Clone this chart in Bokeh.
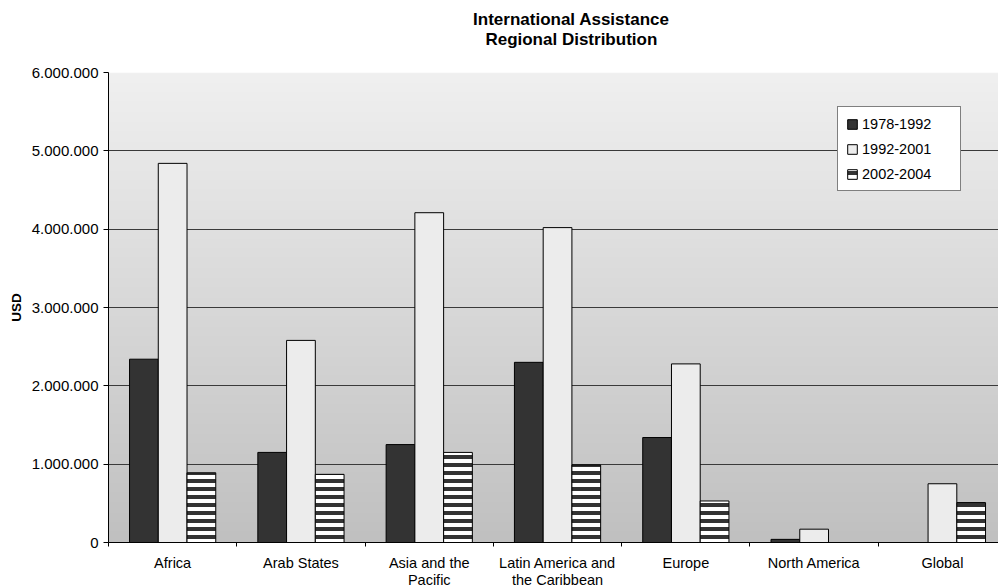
import numpy as np
from bokeh.plotting import figure
from bokeh.layouts import column
from bokeh.core.properties import value
from bokeh.models import (ColumnDataSource, Range1d, FixedTicker, Legend,
                          LegendItem)
from bokeh.transform import dodge
from bokeh.embed import file_html
from bokeh.resources import INLINE

# Regional distribution of international assistance (USD)
regions = ["Africa", "Arab States", "Asia and the\nPacific",
           "Latin America and\nthe Caribbean", "Europe", "North America",
           "Global"]
period_1978_1992 = [2340000, 1150000, 1250000, 2300000, 1340000, 40000, 0]
period_1992_2001 = [4840000, 2580000, 4210000, 4020000, 2280000, 170000, 750000]
period_2002_2004 = [890000, 870000, 1150000, 990000, 530000, 0, 510000]
series_names = ["1978-1992", "1992-2001", "2002-2004"]
y_ticks = [0, 1000000, 2000000, 3000000, 4000000, 5000000, 6000000]
y_tick_labels = ["0", "1.000.000", "2.000.000", "3.000.000", "4.000.000",
                 "5.000.000", "6.000.000"]
title_lines = ["International Assistance", "Regional Distribution"]

FONT = "Liberation Sans"
W = 998
HEAD_H = 60
centers = [i + 0.5 for i in range(len(regions))]
bar_w = 0.224

src = ColumnDataSource(dict(
    x=centers,
    label=regions,
    a=period_1978_1992,
    b=period_1992_2001,
    c=period_2002_2004,
))

x_range = Range1d(0, 6.937)

# ---- title strip (y measured downwards in pixels) -----------------------
head = figure(width=W, height=HEAD_H, x_range=Range1d(0, W),
              y_range=Range1d(HEAD_H, 0),
              output_backend="svg", toolbar_location=None,
              x_axis_location=None, y_axis_location=None, min_border=0)
head.outline_line_color = None
head.grid.visible = False
head.text(x=[519, 519], y=[19, 39], text=title_lines,
          text_align="center", text_baseline="middle",
          text_font=value(FONT), text_font_size="17px",
          text_font_style="bold", text_color="black")

# ---- main chart --------------------------------------------------------
p = figure(width=W, height=490, x_range=x_range, y_range=Range1d(0, 6000000),
           output_backend="svg", toolbar_location=None,
           min_border_left=108, min_border_right=0,
           min_border_top=12, min_border_bottom=8)
p.outline_line_color = None
p.background_fill_color = "white"
p.border_fill_color = "white"

# vertical grey gradient behind the bars
n = 256
shade = np.linspace(192, 240, n).astype(np.uint32)
grad = (255 << 24) | (shade << 16) | (shade << 8) | shade
grad = grad.reshape(n, 1)
p.image_rgba(image=[grad], x=0, y=0, dw=7, dh=6000000, level="image")

r1 = p.vbar(x=dodge("x", -bar_w, range=x_range), top="a", width=bar_w,
            source=src, fill_color="#333333", line_color="black", line_width=1)
r2 = p.vbar(x="x", top="b", width=bar_w, source=src,
            fill_color="#ececec", line_color="black", line_width=1)
r3 = p.vbar(x=dodge("x", bar_w, range=x_range), top="c", width=bar_w,
            source=src, fill_color="white", line_color="black", line_width=1,
            hatch_pattern="horizontal_line", hatch_color="#333333",
            hatch_scale=8, hatch_weight=4)

# y axis
p.yaxis.ticker = FixedTicker(ticks=y_ticks)
p.yaxis.major_label_overrides = dict(zip(y_ticks, y_tick_labels))
p.yaxis.major_label_text_font = FONT
p.yaxis.major_label_text_font_size = "15px"
p.yaxis.major_label_text_color = "black"
p.yaxis.major_tick_out = 5
p.yaxis.major_tick_in = 0
p.yaxis.major_label_standoff = 5
p.yaxis.minor_tick_line_color = None
p.yaxis.axis_line_color = "black"
p.yaxis.major_tick_line_color = "black"
p.yaxis.axis_label = "USD"
p.yaxis.axis_label_text_font = FONT
p.yaxis.axis_label_text_font_size = "13.5px"
p.yaxis.axis_label_text_font_style = "bold"
p.yaxis.axis_label_text_color = "black"
p.yaxis.axis_label_standoff = 5

# x axis: only the short separators between region groups
p.xaxis.ticker = FixedTicker(ticks=[],
                             minor_ticks=list(range(len(regions) + 1)))
p.xaxis.major_label_standoff = 0
p.xaxis.major_tick_out = 0
p.xaxis.major_tick_in = 0
p.xaxis.minor_tick_line_color = "black"
p.xaxis.minor_tick_out = 4
p.xaxis.minor_tick_in = 0
p.xaxis.axis_line_color = "black"

p.xgrid.visible = False
p.ygrid.ticker = FixedTicker(ticks=y_ticks)
p.ygrid.grid_line_color = "#3a3a3a"
p.ygrid.grid_line_width = 1

legend = Legend(items=[LegendItem(label=series_names[0], renderers=[r1]),
                       LegendItem(label=series_names[1], renderers=[r2]),
                       LegendItem(label=series_names[2], renderers=[r3])],
                location=(729, 351), margin=0, padding=8, spacing=8,
                glyph_width=12, glyph_height=12, label_standoff=4,
                label_height=17, label_width=90,
                label_text_font=FONT, label_text_font_size="14.5px",
                label_text_color="black",
                border_line_color="black", border_line_width=1,
                background_fill_color="white", background_fill_alpha=1)
p.add_layout(legend)

# ---- region names under the groups ---------------------------------------
foot = figure(width=W, height=37, x_range=x_range, y_range=Range1d(0, 1),
              output_backend="svg", toolbar_location=None,
              x_axis_location=None, y_axis_location=None,
              min_border_left=108, min_border_right=0,
              min_border_top=0, min_border_bottom=0)
foot.outline_line_color = None
foot.grid.visible = False
foot.text(x="x", y=1, text="label", source=src, y_offset=4,
          text_align="center", text_baseline="top",
          text_font=value(FONT), text_font_size="14.5px", text_color="black",
          text_line_height=1.1)

layout = column(head, p, foot, spacing=0)
open("out.html", "w").write(file_html(layout, INLINE))
